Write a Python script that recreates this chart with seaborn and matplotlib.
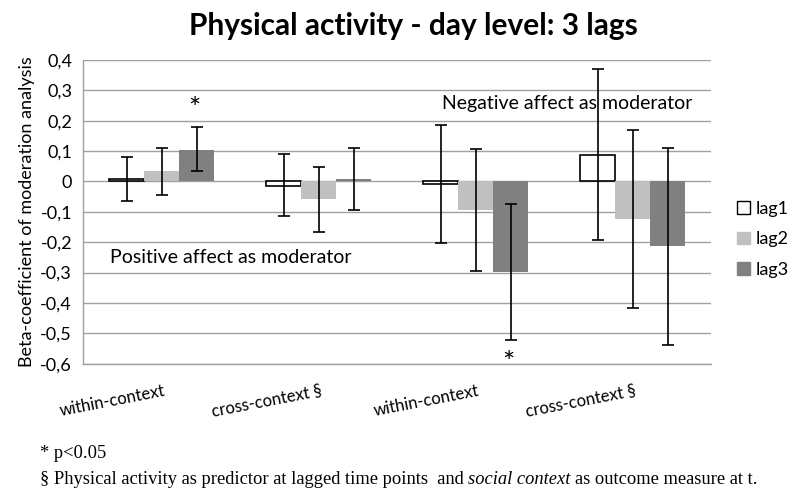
import pandas as pd
import matplotlib.pyplot as plt
from matplotlib.patches import Patch
import matplotlib.transforms as mtransforms
import seaborn as sns

# values
groups = ['pos_within', 'pos_cross', 'neg_within', 'neg_cross']
tick_labels = ['within-context', 'cross-context §', 'within-context', 'cross-context §']
lags = ['lag1', 'lag2', 'lag3']
beta = {
    'lag1': [0.008, -0.014, -0.008, 0.088],
    'lag2': [0.033, -0.057, -0.095, -0.124],
    'lag3': [0.104, 0.009, -0.298, -0.214],
}
ci_low = {
    'lag1': [-0.066, -0.115, -0.203, -0.193],
    'lag2': [-0.043, -0.166, -0.295, -0.416],
    'lag3': [0.035, -0.093, -0.521, -0.538],
}
ci_high = {
    'lag1': [0.079, 0.090, 0.186, 0.371],
    'lag2': [0.109, 0.049, 0.107, 0.168],
    'lag3': [0.178, 0.110, -0.074, 0.111],
}
colors = {'lag1': '#ffffff', 'lag2': '#c0c0c0', 'lag3': '#808080'}

rows = []
for lag in lags:
    for i, g in enumerate(groups):
        rows.append({'group': g, 'lag': lag, 'beta': beta[lag][i]})
df = pd.DataFrame(rows)

sns.set_style('white')
plt.rcParams['font.family'] = ['Lato', 'DejaVu Sans']
plt.rcParams['text.color'] = 'black'
plt.rcParams['axes.labelcolor'] = 'black'
plt.rcParams['xtick.color'] = 'black'
plt.rcParams['ytick.color'] = 'black'

fig = plt.figure(figsize=(8, 4.99), dpi=100)
ax = fig.add_axes([0.104, 0.271, 0.785, 0.609])

sns.barplot(data=df, x='group', y='beta', hue='lag', order=groups, hue_order=lags,
            palette=colors, width=0.67, errorbar=None, legend=False, ax=ax,
            saturation=1, linewidth=0)

for lag, cont in zip(lags, ax.containers):
    xs = []
    for bar in cont:
        if lag == 'lag1':
            bar.set_edgecolor('black')
            bar.set_linewidth(1.2)
        xs.append(bar.get_x() + bar.get_width() / 2)
    lo = [b - l for b, l in zip(beta[lag], ci_low[lag])]
    hi = [h - b for b, h in zip(beta[lag], ci_high[lag])]
    ax.errorbar(xs, beta[lag], yerr=[lo, hi], fmt='none', ecolor='black',
                elinewidth=1.2, capsize=4, capthick=1.2, zorder=5)

ax.set_ylim(-0.6, 0.4)
ax.set_xlim(-0.5, 3.5)
yt = [0.4, 0.3, 0.2, 0.1, 0, -0.1, -0.2, -0.3, -0.4, -0.5, -0.6]
ax.set_yticks(yt)
ax.set_yticklabels(['0' if v == 0 else f'{v:.1f}'.replace('.', ',') for v in yt], fontsize=13)
ax.yaxis.grid(True, color='#a0a0a0', linewidth=1)
ax.set_axisbelow(True)
for s in ['top', 'right']:
    ax.spines[s].set_visible(False)
for s in ['left', 'bottom']:
    ax.spines[s].set_color('#a0a0a0')
    ax.spines[s].set_linewidth(1)
ax.tick_params(axis='both', length=0)
ax.tick_params(axis='y', pad=8)
ax.set_xlabel('')
ax.set_ylabel('Beta-coefficient of moderation analysis', fontsize=13)

ax.set_xticks(range(len(groups)))
ax.set_xticklabels(tick_labels, rotation=11, ha='right', rotation_mode='anchor', fontsize=12)
shift = mtransforms.ScaledTranslation(2 / 100, -14 / 100, fig.dpi_scale_trans)
for lab in ax.get_xticklabels():
    lab.set_transform(lab.get_transform() + shift)

ax.text(0.21, 0.235, '*', fontsize=21, ha='center', va='center')
ax.text(2.21, -0.6, '*', fontsize=21, ha='center', va='center')
ax.text(-0.33, -0.25, 'Positive affect as moderator', fontsize=14, va='center')
ax.text(3.38, 0.255, 'Negative affect as moderator', fontsize=14, va='center', ha='right')

handles = [Patch(facecolor=colors[l], edgecolor='black' if l == 'lag1' else colors[l]) for l in lags]
ax.legend(handles, lags, loc='center left', bbox_to_anchor=(1.015, 0.41), frameon=False,
          fontsize=13, handlelength=0.7, handleheight=0.7, labelspacing=0.8, handletextpad=0.35)

fig.suptitle('Physical activity - day level: 3 lags', fontsize=21.5, fontweight='bold',
             x=0.517, y=0.975)

fig.text(0.05, 0.082, '* p<0.05', family='Liberation Serif', fontsize=13.3)
fig.canvas.draw()
r = fig.canvas.get_renderer()
t1 = fig.text(0.05, 0.03, '§ Physical activity as predictor at lagged time points  and ',
              family='Liberation Serif', fontsize=13.3)
bb = t1.get_window_extent(r)
t2 = fig.text(bb.x1 / fig.bbox.width, 0.03, 'social context', family='Liberation Serif',
              style='italic', fontsize=13.3)
bb2 = t2.get_window_extent(r)
fig.text(bb2.x1 / fig.bbox.width + 0.005, 0.03, 'as outcome measure at t.',
         family='Liberation Serif', fontsize=13.3)

fig.savefig('out.png', dpi=100)
